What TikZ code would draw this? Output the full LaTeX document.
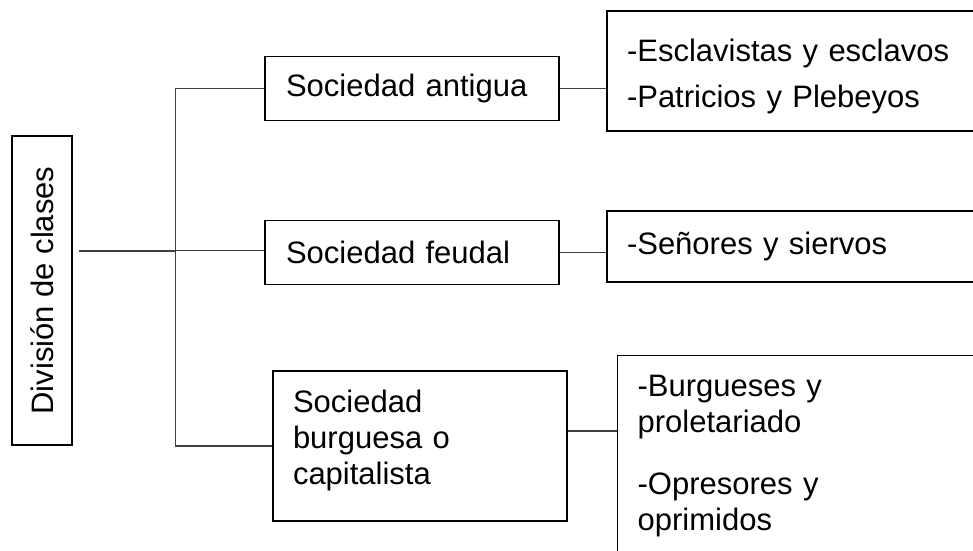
\documentclass[tikz,border=0pt]{standalone}
\usepackage{fontspec}
\setmainfont{Liberation Sans}

\begin{document}
\begin{tikzpicture}[x=1pt, y=-1pt, box/.style={draw, line width=1.3pt, inner sep=0pt, align=left, font=\fontsize{31}{36}\selectfont}, link/.style={draw=black!75, line width=1.1pt}]
  \useasboundingbox (0,0) rectangle (973,550);
  \node[box, rotate=90, minimum width=309, minimum height=60, align=center](clases) at (42,290.5){División de clases};
  \node[box, minimum width=294, minimum height=64, text width=252](antigua) at (412,88.5){Sociedad antigua};
  \node[box, minimum width=294, minimum height=64, text width=252](feudal) at (412,252.5){Sociedad feudal};
  \node[box, minimum width=294, minimum height=150, text width=254](burguesa) at (420,446){Sociedad\\burguesa o\\capitalista\rule[-16.6pt]{0pt}{0pt}};
  % right-hand boxes run past the page edge
  \node[box, minimum width=370, minimum height=120, text width=330](esclavos) at (792,71){\rule{0pt}{34pt}-Esclavistas y esclavos\\[10pt]-Patricios y Plebeyos};
  \node[box, minimum width=370, minimum height=71, text width=330](siervos) at (792,246.5){-Señores y siervos};
  \node[box, anchor=north west, inner ysep=20pt, minimum width=360, text width=320](obreros) at (617,355){-Burgueses y\\proletariado\\[26pt]-Opresores y\\oprimidos};
  \coordinate (lead) at (79,250.5);
  \coordinate (trunk) at (175.5,250.5);
  \draw[link, line width=2pt] (lead) -- (trunk);
  \draw[link] (antigua.west) -| (trunk) |- (burguesa.west);
  \draw[link] (trunk) -- (trunk -| feudal.west);
  \draw[link] (antigua.east) -- (antigua.east -| esclavos.west);
  \draw[link] (feudal.east) -- (feudal.east -| siervos.west);
  \draw[link] ([yshift=15pt]burguesa.east) -- ([yshift=15pt]burguesa.east -| obreros.west);
\end{tikzpicture}
\end{document}
